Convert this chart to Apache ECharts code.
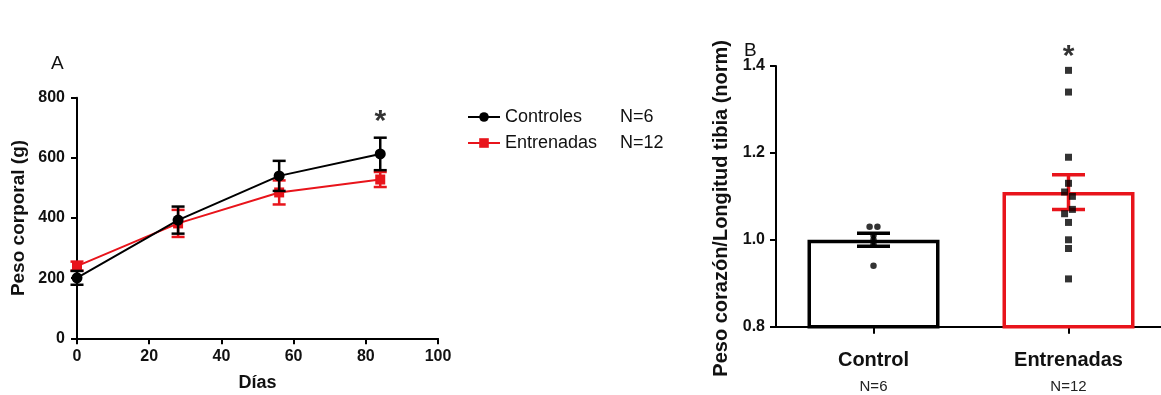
<!DOCTYPE html>
<html>
<head>
<meta charset="utf-8">
<script src="https://cdn.jsdelivr.net/npm/echarts@6/dist/echarts.min.js"></script>
<style>
html,body{margin:0;padding:0;background:#fff;}
#chart{width:1161px;height:395px;}
</style>
</head>
<body>
<div id="chart"></div>
<script>
// ---- Panel A data ----
const daysA = [0, 28, 56, 84];
const ctrlMean = [201, 393, 540, 613];
const ctrlErr = [23, 45, 50, 54];
const trainMean = [240, 382, 485, 528];
const trainErr = [15, 45, 40, 25];
const sigA = [[84, 740]];
const xTicksA = [0, 20, 40, 60, 80, 100];
const yTicksA = [0, 200, 400, 600, 800];

// ---- Panel B data ----
const groupsB = ['Control', 'Entrenadas'];
const groupN = ['N=6', 'N=12'];
const barMeans = [1.00, 1.11];
const barSem = [0.015, 0.04];
const ctrlPoints = [1.03, 1.03, 1.01, 1.00, 0.99, 0.94];
const ctrlJitter = [-0.02, 0.02, 0, 0, 0, 0];
const trainPoints = [1.39, 1.34, 1.19, 1.13, 1.11, 1.10, 1.07, 1.06, 1.04, 1.00, 0.98, 0.91];
const trainJitter = [0, 0, 0, 0, -0.02, 0.02, 0.02, -0.02, 0, 0, 0, 0];
const sigB = [[1, 1.435]];

const FONT = '"Liberation Sans", Arial, sans-serif';
const RED = '#e8141b';

function errRender(capW, lw) {
  return function (params, api) {
    const x = api.value(0), m = api.value(1), e = api.value(2);
    const t = api.coord([x, m + e]);
    const b = api.coord([x, m - e]);
    const color = api.visual('color');
    const st = { stroke: color, lineWidth: lw };
    return {
      type: 'group',
      children: [
        { type: 'line', shape: { x1: t[0], y1: t[1], x2: b[0], y2: b[1] }, style: st },
        { type: 'line', shape: { x1: t[0] - capW / 2, y1: t[1], x2: t[0] + capW / 2, y2: t[1] }, style: st },
        { type: 'line', shape: { x1: b[0] - capW / 2, y1: b[1], x2: b[0] + capW / 2, y2: b[1] }, style: st }
      ]
    };
  };
}

const axisLine = { show: true, onZero: false, lineStyle: { color: '#000', width: 2 } };
const axisTick = { show: true, length: 6, lineStyle: { color: '#000', width: 2 } };
const tickLabel = { color: '#111', fontFamily: FONT, fontWeight: 'bold', fontSize: 16 };

const chart = echarts.init(document.getElementById('chart'), null, { renderer: 'canvas' });

const option = {
  backgroundColor: '#fff',
  animation: false,
  textStyle: { fontFamily: FONT },
  title: [
    { text: 'A', left: 46, top: 49, textStyle: { fontFamily: FONT, fontWeight: 'normal', fontSize: 19, color: '#111' } },
    { text: 'B', left: 739, top: 36, textStyle: { fontFamily: FONT, fontWeight: 'normal', fontSize: 19, color: '#111' } }
  ],
  legend: {
    orient: 'vertical',
    left: 462,
    top: 103,
    itemGap: 8,
    itemWidth: 32,
    itemHeight: 12,
    data: ['Controles', 'Entrenadas'],
    formatter: function (name) {
      return '{a|' + name + '}{b|' + (name === 'Controles' ? groupN[0] : groupN[1]) + '}';
    },
    textStyle: {
      rich: {
        a: { fontFamily: FONT, fontSize: 18, color: '#111', width: 115 },
        b: { fontFamily: FONT, fontSize: 18, color: '#111' }
      }
    }
  },
  grid: [
    { left: 77, top: 97.7, width: 361, height: 240.6, outerBoundsMode: 'none' },
    { left: 776, top: 66, width: 390, height: 260.7, outerBoundsMode: 'none' }
  ],
  xAxis: [
    {
      gridIndex: 0, type: 'value', min: xTicksA[0], max: xTicksA[xTicksA.length - 1], interval: 20,
      name: 'Días', nameLocation: 'middle', nameGap: 36,
      nameTextStyle: { fontFamily: FONT, fontWeight: 'bold', fontSize: 18, color: '#111' },
      axisLine: axisLine, axisTick: axisTick, splitLine: { show: false },
      axisLabel: Object.assign({ margin: 10 }, tickLabel)
    },
    {
      gridIndex: 1, type: 'category', data: groupsB, boundaryGap: true,
      axisLine: axisLine,
      axisTick: { show: true, alignWithLabel: true, length: 7, lineStyle: { color: '#000', width: 2 } },
      axisLabel: {
        margin: 20,
        formatter: function (v, i) { return '{n|' + v + '}\n{s|' + groupN[i] + '}'; },
        rich: {
          n: { fontFamily: FONT, fontWeight: 'bold', fontSize: 20, color: '#111', lineHeight: 28 },
          s: { fontFamily: FONT, fontSize: 15, color: '#222', lineHeight: 24 }
        }
      }
    },
    {
      gridIndex: 1, type: 'value', min: -0.5, max: 1.5, show: false
    }
  ],
  yAxis: [
    {
      gridIndex: 0, type: 'value', min: 0, max: 800, interval: 200,
      name: 'Peso corporal (g)', nameLocation: 'middle', nameGap: 49,
      nameTextStyle: { fontFamily: FONT, fontWeight: 'bold', fontSize: 19, color: '#111' },
      axisLine: axisLine, axisTick: axisTick, splitLine: { show: false },
      axisLabel: Object.assign({ margin: 12 }, tickLabel)
    },
    {
      gridIndex: 1, type: 'value', min: 0.8, max: 1.4, interval: 0.2,
      name: 'Peso corazón/Longitud tibia (norm)', nameLocation: 'middle', nameGap: 45,
      nameTextStyle: { fontFamily: FONT, fontWeight: 'bold', fontSize: 20, color: '#111', padding: [0, 24, 0, 0] },
      axisLine: axisLine, axisTick: axisTick, splitLine: { show: false },
      axisLabel: Object.assign({ margin: 11, formatter: function (v) { return v.toFixed(1); } }, tickLabel)
    }
  ],
  series: [
    // Panel A
    {
      name: 'EntrenadasErr', type: 'custom', xAxisIndex: 0, yAxisIndex: 0,
      itemStyle: { color: RED },
      renderItem: errRender(13, 2.5),
      data: daysA.map((d, i) => [d, trainMean[i], trainErr[i]]), z: 2
    },
    {
      name: 'Entrenadas', type: 'line', xAxisIndex: 0, yAxisIndex: 0,
      symbol: 'rect', symbolSize: 10,
      itemStyle: { color: RED }, lineStyle: { color: RED, width: 2 },
      data: daysA.map((d, i) => [d, trainMean[i]]), z: 3
    },
    {
      name: 'ControlesErr', type: 'custom', xAxisIndex: 0, yAxisIndex: 0,
      itemStyle: { color: '#000' },
      renderItem: errRender(13, 2.5),
      data: daysA.map((d, i) => [d, ctrlMean[i], ctrlErr[i]]), z: 4
    },
    {
      name: 'Controles', type: 'line', xAxisIndex: 0, yAxisIndex: 0,
      symbol: 'circle', symbolSize: 11,
      itemStyle: { color: '#000' }, lineStyle: { color: '#000', width: 2 },
      data: daysA.map((d, i) => [d, ctrlMean[i]]), z: 5
    },
    {
      name: 'sigA', type: 'scatter', xAxisIndex: 0, yAxisIndex: 0, clip: false,
      symbolSize: 1, itemStyle: { color: 'rgba(0,0,0,0)' },
      label: { show: true, position: 'inside', formatter: '*', fontFamily: FONT, fontWeight: 'bold', fontSize: 30, color: '#000', offset: [0, 6] },
      data: sigA, z: 6
    },
    // Panel B
    {
      name: 'bars', type: 'bar', xAxisIndex: 1, yAxisIndex: 1,
      barWidth: 132,
      data: barMeans.map((v, i) => ({
        value: v,
        itemStyle: { color: '#fff', borderColor: i === 0 ? '#000' : RED, borderWidth: 3.5 }
      })), z: 2
    },
    {
      name: 'barErr', type: 'custom', xAxisIndex: 1, yAxisIndex: 1,
      renderItem: errRender(33, 3.5),
      data: barMeans.map((v, i) => ({ value: [i, v, barSem[i]], itemStyle: { color: i === 0 ? '#000' : RED } })), z: 3
    },
    {
      name: 'ctrlPts', type: 'scatter', xAxisIndex: 2, yAxisIndex: 1, clip: false,
      symbol: 'circle', symbolSize: 6.5, itemStyle: { color: '#000' },
      data: ctrlPoints.map((v, i) => [0 + ctrlJitter[i], v]), z: 4
    },
    {
      name: 'trainPts', type: 'scatter', xAxisIndex: 2, yAxisIndex: 1, clip: false,
      symbol: 'rect', symbolSize: 7, itemStyle: { color: '#000' },
      data: trainPoints.map((v, i) => [1 + trainJitter[i], v]), z: 4
    },
    {
      name: 'sigB', type: 'scatter', xAxisIndex: 2, yAxisIndex: 1, clip: false,
      symbolSize: 1, itemStyle: { color: 'rgba(0,0,0,0)' },
      label: { show: true, position: 'inside', formatter: '*', fontFamily: FONT, fontWeight: 'bold', fontSize: 30, color: '#000', offset: [0, 6] },
      data: sigB, z: 6
    }
  ]
};
chart.setOption(option);
</script>
</body>
</html>
